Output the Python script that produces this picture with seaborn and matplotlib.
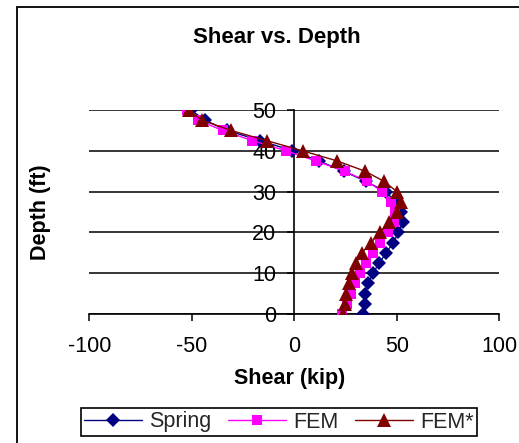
import matplotlib
matplotlib.use("Agg")
import matplotlib.pyplot as plt
import seaborn as sns
import pandas as pd
from matplotlib.patches import Rectangle

# ---- data ----
depth = [0, 2.5, 5, 7.5, 10, 12.5, 15, 17.5, 20, 22.5, 25,
         27.5, 30, 32.5, 35, 37.5, 40, 42.5, 45, 47.5, 50]
spring = [33.5, 34.3, 34.5, 36.0, 38.3, 41.5, 44.8, 48.3, 50.8, 53.0, 52.0,
          49.5, 44.5, 35.0, 24.0, 12.0, -1.0, -16.5, -33.0, -43.5, -50.5]
fem = [23.5, 25.5, 27.5, 29.5, 32.0, 35.0, 38.5, 42.0, 45.5, 48.5, 49.0,
       47.0, 43.0, 35.5, 24.5, 10.5, -4.0, -20.5, -35.0, -47.0, -52.5]
fem_star = [23.8, 24.5, 25.3, 26.5, 28.0, 30.2, 33.0, 37.5, 41.8, 46.2, 50.2,
            51.9, 50.0, 43.8, 34.5, 21.0, 4.0, -13.5, -31.0, -45.0, -51.5]
series_names = ["Spring", "FEM", "FEM*"]
x_ticks = [-100, -50, 0, 50, 100]
y_ticks = [0, 10, 20, 30, 40, 50]

sns.set_theme(style="white")
plt.rcParams["font.family"] = ["Liberation Sans", "DejaVu Sans"]
plt.rcParams["axes.unicode_minus"] = False

df = pd.concat([
    pd.DataFrame({"Shear": vals, "Depth": depth, "Series": name})
    for name, vals in zip(series_names, [spring, fem, fem_star])
], ignore_index=True)

W, H = 519, 443
fig = plt.figure(figsize=(W / 100, H / 100), dpi=100, facecolor="white")
ax = fig.add_axes([89.3 / W, 1 - 314 / H, 410 / W, 204 / H])

palette = ["#000080", "#FF00FF", "#800000"]
sns.lineplot(data=df, x="Shear", y="Depth", hue="Series", style="Series",
             markers=["D", "s", "^"], dashes=False, palette=palette,
             sort=False, estimator=None, ax=ax, linewidth=1.0,
             markeredgewidth=0, legend=False, zorder=3)

sizes = {"D": 7.3, "s": 7.8, "^": 9.5}
for ln in ax.lines:
    m = ln.get_marker()
    if m in sizes:
        ln.set_markersize(sizes[m])
        ln.set_markeredgewidth(0)

ax.set_xlim(-100, 100)
ax.set_ylim(0, 50)
ax.set_xticks(x_ticks)
ax.set_yticks(y_ticks)
ax.set_facecolor("white")

for s in ["top", "right"]:
    ax.spines[s].set_visible(False)
ax.spines["left"].set_position(("data", 0))
for s in ["left", "bottom"]:
    ax.spines[s].set_color("black")
    ax.spines[s].set_linewidth(1.2)

ax.yaxis.grid(True, color="black", linewidth=1.1)
ax.xaxis.grid(False)

ax.tick_params(axis="x", bottom=True, direction="out", length=5, width=1.1,
               color="black", pad=11, labelsize=15.5, labelcolor="black")
ax.tick_params(axis="y", left=True, direction="out", length=5, width=1.1,
               color="black", pad=8, labelsize=15.5, labelcolor="black")

ax.set_xlabel("Shear (kip)", fontsize=15.5, fontweight="bold", color="black")
ax.xaxis.set_label_coords(0.4895, -0.314)
ax.xaxis.label.set_va("center")
ax.set_ylabel("Depth (ft)", fontsize=15.5, fontweight="bold", color="black")
ax.yaxis.set_label_coords(-0.1202, 0.5)
ax.yaxis.label.set_va("center")

fig.text(276.7 / W, 1 - 38 / H, "Shear vs. Depth", ha="center", va="center",
         fontsize=16, fontweight="bold", color="black")

leg = ax.legend(ax.lines[:3], series_names, loc="center",
                bbox_to_anchor=(279 / W, 1 - 422 / H),
                bbox_transform=fig.transFigure, ncol=3, frameon=True,
                fancybox=False, edgecolor="black", framealpha=1,
                fontsize=15.5, handlelength=2.7, handletextpad=0.35,
                columnspacing=0.75, borderpad=0.15, borderaxespad=0)
leg.get_frame().set_linewidth(1.2)

fig.add_artist(Rectangle((17 / W, -0.1), 1.2, 1 - 7 / H + 0.1,
                         transform=fig.transFigure, fill=False,
                         edgecolor="black", linewidth=1.3))

fig.savefig("out.png", dpi=100, facecolor="white")
